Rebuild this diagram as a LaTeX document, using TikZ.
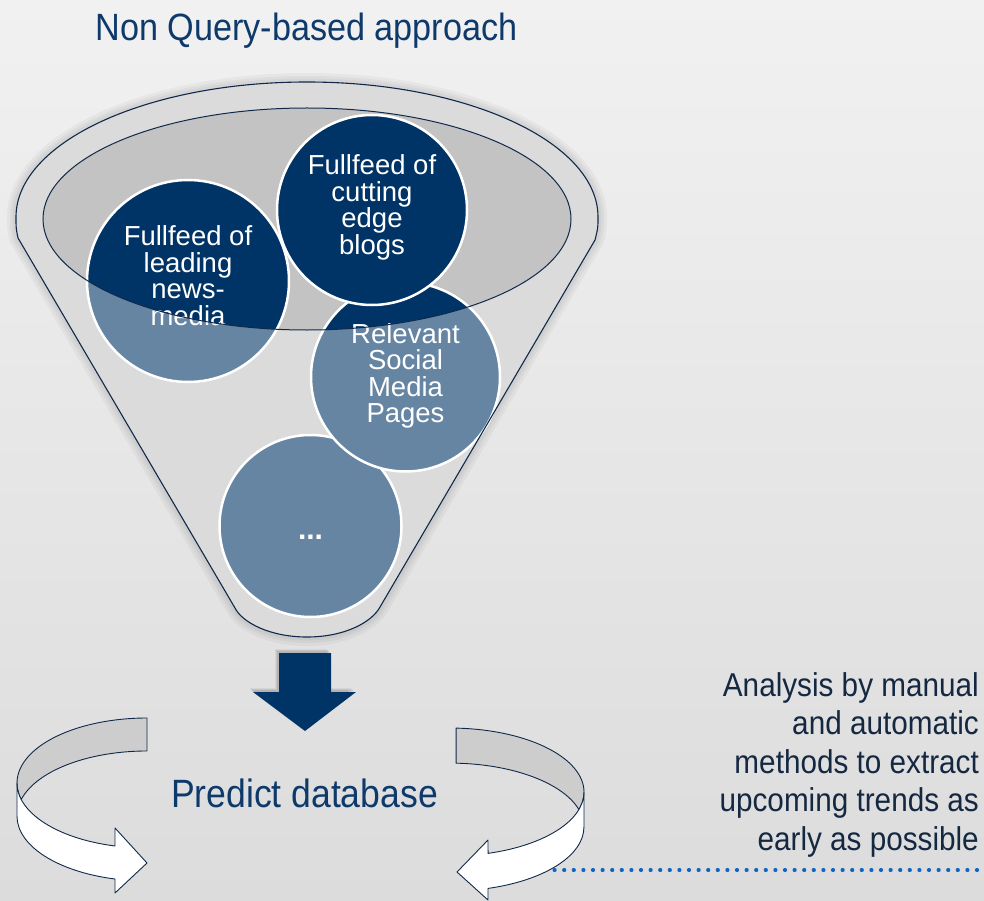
\documentclass[tikz,border=0pt]{standalone}
\usepackage{fontspec}
\setmainfont{Liberation Sans}[FakeStretch=0.9]
\newfontfamily\circfont{Liberation Sans}
\definecolor{navy}{HTML}{003466}
\definecolor{titleblue}{HTML}{0E3A6B}
\definecolor{darktext}{HTML}{152842}
\definecolor{edge}{HTML}{10294A}
\definecolor{bodygray}{HTML}{C3C3C3}
\definecolor{backgray}{HTML}{CDCDCD}
\definecolor{dotblue}{HTML}{1565C0}
\definecolor{bgtop}{HTML}{F1F1F1}
\definecolor{bgbot}{HTML}{DCDCDC}
\tikzset{
  funnelpath/.style={insert path={(16,217) arc[start angle=180, end angle=360, x radius=291, y radius=135]
     .. controls (598,228) .. (595,240) -- (380,607)
     .. controls (372,622) and (345,637) .. (307,637)
     .. controls (269,637) and (242,622) .. (235,608) -- (18,238)
     .. controls (16,228) .. (16,217) -- cycle}},
  bubble/.style={circle, fill=navy, draw=white, line width=2.5pt, inner sep=0pt},
  ctext/.style={text=white, align=center, inner sep=0pt, font=\circfont\fontsize{27.5}{26.5}\selectfont},
  ribbon/.style={draw=edge, line width=0.9pt, line join=round},
}
\begin{document}
\begin{tikzpicture}[x=1pt,y=-1pt]
\shade[top color=bgtop, bottom color=bgbot] (0,0) rectangle (984,901);
\useasboundingbox (0,0) rectangle (984,901);

% title
\node[anchor=base, inner sep=0pt, text=titleblue, font=\fontsize{38}{40}\selectfont] (title) at (306.5,41) {Non Query-based approach};

% funnel glow
\foreach \w in {18,12,7} {\draw[black, opacity=0.035, line width=\w pt, funnelpath];}
\fill[bodygray, funnelpath];

% circles
\node[bubble, minimum size=182pt] (dots) at (310.5,526) {};
\node[bubble, minimum size=189pt] (rel) at (405.5,377) {};
\node[bubble, minimum size=190pt] (blogs) at (372,210) {};
\node[bubble, minimum size=202pt] (lead) at (188,281) {};

% (base anchor = baseline of the last line)
\node[ctext, anchor=base] (leadtxt) at (188,325.2) {Fullfeed of\\leading\\news-\\media};
\node[ctext, anchor=base] (blogtxt) at (372,254.5) {Fullfeed of\\cutting\\edge\\blogs};
\node[ctext, anchor=base] (reltxt) at (405.5,422.8) {Relevant\\Social\\Media\\Pages};
\node[ctext, anchor=base, font=\circfont\bfseries\fontsize{30}{30}\selectfont] (dotstxt) at (310.5,539) {...};

% translucent front of funnel
\fill[white, opacity=0.4, even odd rule, funnelpath] (307,219) ellipse [x radius=264, y radius=111];
\draw[edge, line width=1pt] (307,219) ellipse [x radius=264, y radius=111];
\draw[edge, line width=1.1pt, funnelpath];

% down arrow
\foreach \s/\o in {4/0.05,3/0.07,2/0.09} {
\fill[black, opacity=\o, xshift=-\s pt, yshift=\s pt] (279,653) -- (331,653) -- (331,692) -- (356,692) -- (305,731) -- (253,692) -- (279,692) -- cycle;}
\fill[navy] (279,653) -- (331,653) -- (331,692) -- (356,692) -- (305,731) -- (253,692) -- (279,692) -- cycle;

% dotted line
\coordinate (d1) at (545,870);
\coordinate (d2) at (984,870);
\draw[dotblue, line width=4.2pt, line cap=round, dash pattern=on 0pt off 9.6pt] (d1) -- (d2);

% left circular arrow
\filldraw[ribbon, fill=backgray] (147,718) arc[start angle=270, end angle=165.3, x radius=130, y radius=65]
   arc[start angle=194.7, end angle=270, x radius=130, y radius=65] -- cycle;
\filldraw[ribbon, fill=white] (17,783) arc[start angle=180, end angle=104.25, x radius=130, y radius=65]
   -- (115,828) -- (147,863) -- (115,893) -- (115,879)
   arc[start angle=104.25, end angle=180, x radius=130, y radius=65] -- cycle;

% right circular arrow
\filldraw[ribbon, fill=backgray] (456.1,728.1) arc[start angle=272.6, end angle=375.9, x radius=134, y radius=64]
   arc[start angle=344.1, end angle=272.6, x radius=134, y radius=64] -- cycle;
\filldraw[ribbon, fill=white] (584,792) arc[start angle=0, end angle=73.5, x radius=134, y radius=64]
   -- (488,840) -- (457,872) -- (488,900) -- (488,888.4)
   arc[start angle=73.5, end angle=0, x radius=134, y radius=64] -- cycle;

% texts
\node[anchor=base, inner sep=0pt, text=titleblue, font=\fontsize{39.5}{40}\selectfont] (pred) at (304.5,807) {Predict database};
\node[anchor=base east, align=right, inner sep=0pt, text=darktext, font=\fontsize{33}{38.6}\selectfont] (analysis) at (979,850.5)
  {Analysis by manual\\and automatic\\methods to extract\\upcoming trends as\\early as possible};
\end{tikzpicture}
\end{document}
